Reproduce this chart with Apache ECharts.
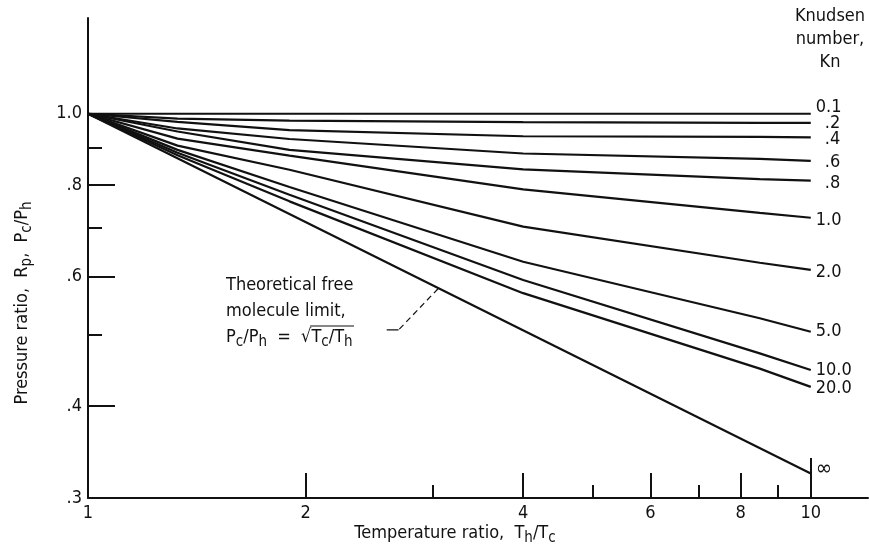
<!DOCTYPE html>
<html>
<head>
<meta charset="utf-8">
<title>Pressure ratio vs temperature ratio</title>
<script src="https://cdn.jsdelivr.net/npm/echarts@6/dist/echarts.min.js"></script>
<style>
  html, body { margin: 0; padding: 0; background: #fff; }
  #chart { width: 869px; height: 548px; }
</style>
</head>
<body>
<div id="chart"></div>
<script>
const tempRatio = [1, 1.33, 1.9, 4, 8.5, 10]

// pressure ratio Pc/Ph, one array per Knudsen number
const kn0_1 = [1, 1, 1, 1, 1, 1]
const kn0_2 = [1, 0.985, 0.979, 0.974, 0.972, 0.972]
const kn0_4 = [1, 0.975, 0.950, 0.932, 0.930, 0.929]
const kn0_6 = [1, 0.955, 0.924, 0.883, 0.868, 0.863]
const kn0_8 = [1, 0.946, 0.893, 0.840, 0.815, 0.811]
const kn1_0 = [1, 0.925, 0.877, 0.789, 0.733, 0.722]
const kn2_0 = [1, 0.905, 0.839, 0.702, 0.627, 0.613]
const kn5_0 = [1, 0.893, 0.795, 0.629, 0.527, 0.505]
const kn10_0 = [1, 0.885, 0.776, 0.594, 0.472, 0.448]
const kn20_0 = [1, 0.878, 0.760, 0.570, 0.450, 0.425]
const knLabels = ['0.1', '.2', '.4', '.6', '.8', '1.0', '2.0', '5.0', '10.0', '20.0']

// free molecule limit, Kn = infinity
const limitTemp = [1, 10]
const limitPress = [1, 0.324]
const limitLabel = '\u221e'

// dashed leader from the note to the limit line
const leaderTemp = [3.05, 2.69]
const leaderPress = [0.578, 0.508]
const leaderTailTemp = [2.69, 2.59]
const leaderTailPress = [0.508, 0.508]

// axes
const xLabelValues = [1, 2, 4, 6, 8, 10]
const xMajorTicks = [2, 4, 6, 8]
const xMinorTicks = [3, 5, 7, 9]
const xEndTick = [10]
const yLabelValues = [1, 0.8, 0.6, 0.4, 0.3]
const yLabelTexts = ['1.0', '.8', '.6', '.4', '.3']
const yMajorTicks = [1, 0.8, 0.6, 0.4]
const yMinorTicks = [0.9, 0.7, 0.5]

const FONT = '"DejaVu Sans Condensed", "Liberation Sans Narrow", "Roboto Condensed", "DejaVu Sans", sans-serif'
const INK = '#111'
const FS = 18
const labelDy = [-6, 0, 2, 2, 3, 3, 2, 0, 0, 1]

const rich = {
  n: { fontFamily: FONT, fontSize: FS, color: INK },
  sub: { fontFamily: FONT, fontSize: 15, color: INK, padding: [11, 0, 0, 0] },
}

function xAxisFor(ticks, len, withLine, withLabels) {
  return {
    type: 'log', logBase: 10, min: 1, max: 12, gridIndex: 0, position: 'bottom',
    axisLine: { show: withLine, lineStyle: { color: INK, width: 2 } },
    axisTick: { show: true, inside: true, length: len, customValues: ticks, lineStyle: { color: INK, width: 2 } },
    axisLabel: {
      show: withLabels, customValues: xLabelValues, margin: 6,
      fontFamily: FONT, fontSize: FS, color: INK,
      formatter: v => String(Math.round(v)),
    },
    splitLine: { show: false },
    minorTick: { show: false },
  }
}

function yAxisFor(ticks, len, withLine, withLabels) {
  return {
    type: 'log', logBase: 10, min: 0.3, max: 1.35, gridIndex: 0, position: 'left',
    axisLine: { show: withLine, lineStyle: { color: INK, width: 2 } },
    axisTick: { show: true, inside: true, length: len, customValues: ticks, lineStyle: { color: INK, width: 2 } },
    axisLabel: {
      show: withLabels, customValues: yLabelValues, margin: 6,
      fontFamily: FONT, fontSize: FS, color: INK,
      formatter: v => {
        const i = yLabelValues.findIndex(t => Math.abs(t - v) < 1e-6)
        return i >= 0 ? yLabelTexts[i] : ''
      },
    },
    splitLine: { show: false },
  }
}

function curve(xs, ys, label, dy, size) {
  return {
    type: 'line',
    name: label,
    data: xs.map((x, j) => [x, ys[j]]),
    showSymbol: false,
    silent: true,
    lineStyle: { color: INK, width: 2.2 },
    emphasis: { disabled: true },
    endLabel: {
      show: true,
      formatter: label,
      distance: 5,
      offset: [label.startsWith('.') ? 9 : 0, dy],
      fontFamily: FONT,
      fontSize: size || FS,
      color: INK,
    },
  }
}

const knCurves = [kn0_1, kn0_2, kn0_4, kn0_6, kn0_8, kn1_0, kn2_0, kn5_0, kn10_0, kn20_0]
const series = knCurves.map((vals, i) => curve(tempRatio, vals, knLabels[i], labelDy[i]))
series.push(curve(limitTemp, limitPress, limitLabel, -4, 22))
series.push({
  type: 'line', data: leaderTemp.map((x, j) => [x, leaderPress[j]]),
  showSymbol: false, silent: true,
  lineStyle: { color: INK, width: 1.2, type: [6, 4] },
})
series.push({
  type: 'line', data: leaderTailTemp.map((x, j) => [x, leaderTailPress[j]]),
  showSymbol: false, silent: true,
  lineStyle: { color: INK, width: 1.2 },
})

const chart = echarts.init(document.getElementById('chart'))
chart.setOption({
  animation: false,
  backgroundColor: '#fff',
  grid: { left: 88, right: 1, top: 18, bottom: 50 },
  xAxis: [
    xAxisFor(xMajorTicks, 25, true, true),
    xAxisFor(xMinorTicks, 13, false, false),
    xAxisFor(xEndTick, 40, false, false),
  ],
  yAxis: [
    yAxisFor(yMajorTicks, 27, true, true),
    yAxisFor(yMinorTicks, 14, false, false),
  ],
  series,
  graphic: [
    {
      type: 'text', style: {
        x: 830, y: 5, text: 'Knudsen\nnumber,\nKn', align: 'center',
        fontFamily: FONT, fontSize: FS, lineHeight: 23, fill: INK,
      },
    },
    {
      type: 'text', style: {
        x: 226, y: 272, lineHeight: 26,
        text: '{n|Theoretical free}\n{n|molecule limit,}\n{n|P}{sub|c}{n|/P}{sub|h}{n|  =  \u221a}{n|T}{sub|c}{n|/T}{sub|h}',
        fontFamily: FONT, fontSize: FS, fill: INK, rich,
      },
    },
    {
      // vinculum of the square root
      type: 'line', shape: { x1: 310, y1: 326, x2: 354, y2: 326 },
      style: { stroke: INK, lineWidth: 1.2 },
    },
    {
      type: 'text', style: {
        x: 455, y: 533, align: 'center', verticalAlign: 'middle',
        text: '{n|Temperature ratio,  T}{sub|h}{n|/T}{sub|c}',
        fontFamily: FONT, fontSize: FS, fill: INK, rich,
      },
    },
    {
      type: 'text', x: 22, y: 303, rotation: Math.PI / 2, style: {
        x: 0, y: 0, align: 'center', verticalAlign: 'middle',
        text: '{n|Pressure ratio,  R}{sub|p}{n|,  P}{sub|c}{n|/P}{sub|h}',
        fontFamily: FONT, fontSize: FS, fill: INK, rich,
      },
    },
  ],
})
</script>
</body>
</html>
